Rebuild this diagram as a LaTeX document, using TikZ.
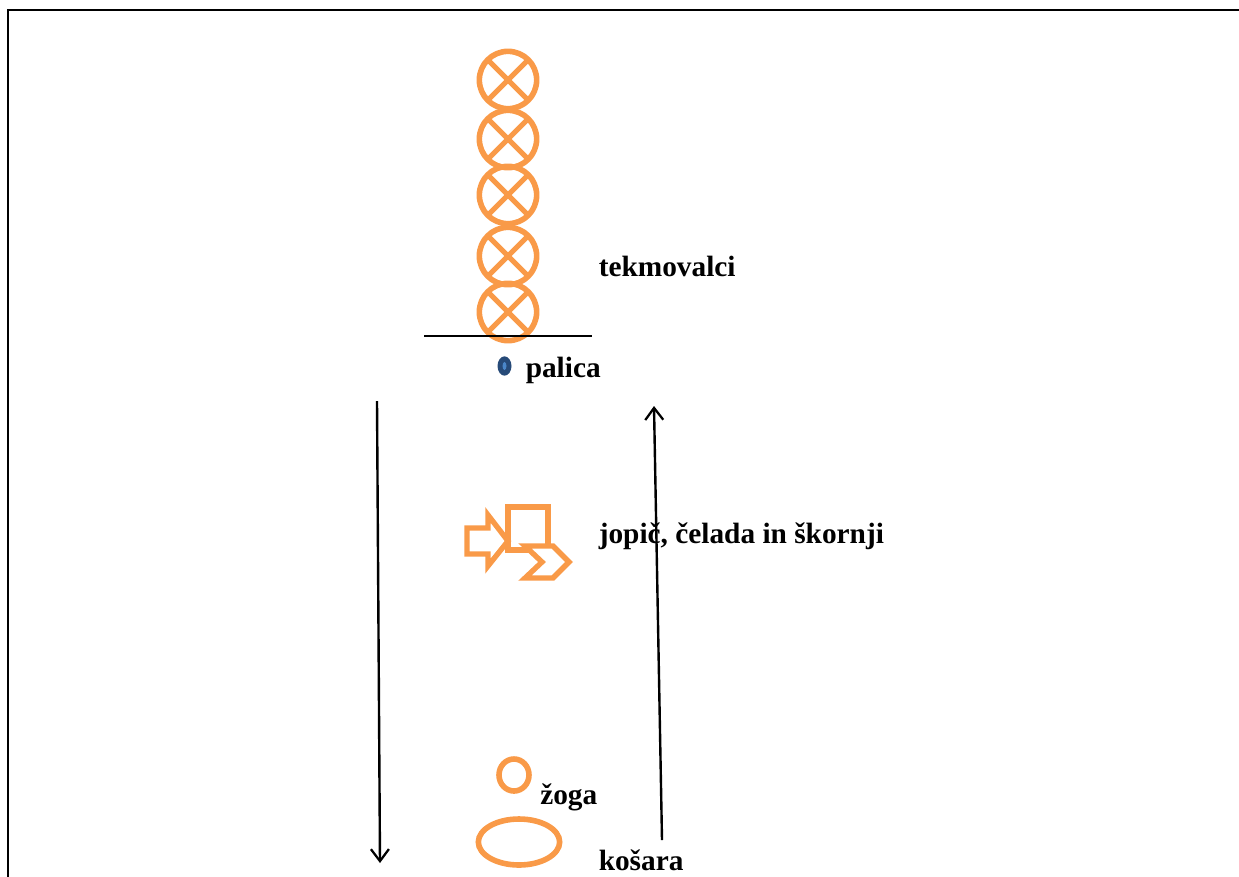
\documentclass[tikz,border=0pt]{standalone}
\usepackage{fontspec}
\setmainfont{Liberation Serif}
\usetikzlibrary{shapes.geometric,arrows.meta}
\definecolor{orangeline}{HTML}{F99A48}
\definecolor{darkdot}{HTML}{264A78}
\definecolor{lightdot}{HTML}{4A86C8}
\tikzset{
  px/.style={x=0.75pt,y=-0.75pt},
  orangeshape/.style={draw=orangeline,line width=4pt,fill=none,line join=miter},
  label/.style={anchor=base west,inner sep=0pt,font=\bfseries\fontsize{22}{26}\selectfont,text=black},
  flow/.style={draw=black,line width=1.8pt,-{Straight Barb[length=9pt,width=13.5pt,line width=1.7pt]}},
  ring/.style={circle,draw=orangeline,line width=4.2pt,minimum size=43pt,inner sep=0pt,fill=none,outer sep=0pt},
  crossbar/.style={draw=orangeline,line width=3.9pt,shorten >=1pt,shorten <=1pt}
}
\begin{document}
\begin{tikzpicture}[px]
\useasboundingbox (0,0) rectangle (1239,876);
\clip (0,0) rectangle (1239,876);
\draw[black,line width=1.9pt] (8,900) -- (8,10) -- (1260,10);
% competitors
\foreach \nm/\yy in {a/80,b/139,c/195,d/256,e/312}{
  \node[ring] (ring\nm) at (508,\yy) {};
  \draw[crossbar] (ring\nm.north west) -- (ring\nm.south east);
  \draw[crossbar] (ring\nm.north east) -- (ring\nm.south west);
}
\coordinate (lineL) at (424,336);
\coordinate (lineR) at (592,336);
\draw[black,line width=1.6pt] (lineL) -- (lineR);
% baton
\node[ellipse,fill=darkdot,minimum width=14.5pt,minimum height=10.5pt,inner sep=0pt,rotate=90] (baton) at (504.5,366) {};
\node[ellipse,fill=lightdot,minimum width=6pt,minimum height=3pt,inner sep=0pt,rotate=90] (batoninner) at (504.5,366) {};
% equipment
\draw[orangeshape] (467,528) -- (488,528) -- (488,515) -- (508,541) -- (488,566) -- (488,554) -- (467,554) -- cycle;
\draw[orangeshape] (508,507) rectangle (548,550);
\draw[orangeshape,fill=white] (525,546) -- (553,546) -- (569,562) -- (553,578) -- (525,578) -- (542,562) -- cycle;
% ball and basket
\node[ellipse,draw=orangeline,line width=4.2pt,minimum width=22.5pt,minimum height=24pt,inner sep=0pt] (ball) at (514,775) {};
\node[ellipse,draw=orangeline,line width=4.2pt,minimum width=61pt,minimum height=34.5pt,inner sep=0pt] (basket) at (519,842) {};
% labels
\node[label] (tek) at (598.5,276) {tekmovalci};
\node[label] (pal) at (525.5,377) {palica};
\node[label] (jop) at (598.5,543) {jopič, čelada in škornji};
\node[label] (zog) at (540,804) {žoga};
\node[label] (kos) at (598.5,870) {košara};
% arrows
\coordinate (downS) at (377,401);
\coordinate (downE) at (380,863);
\coordinate (upS) at (662,840);
\coordinate (upE) at (654,406);
\draw[flow] (downS) -- (downE);
\draw[flow] (upS) -- (upE);
\end{tikzpicture}
\end{document}
